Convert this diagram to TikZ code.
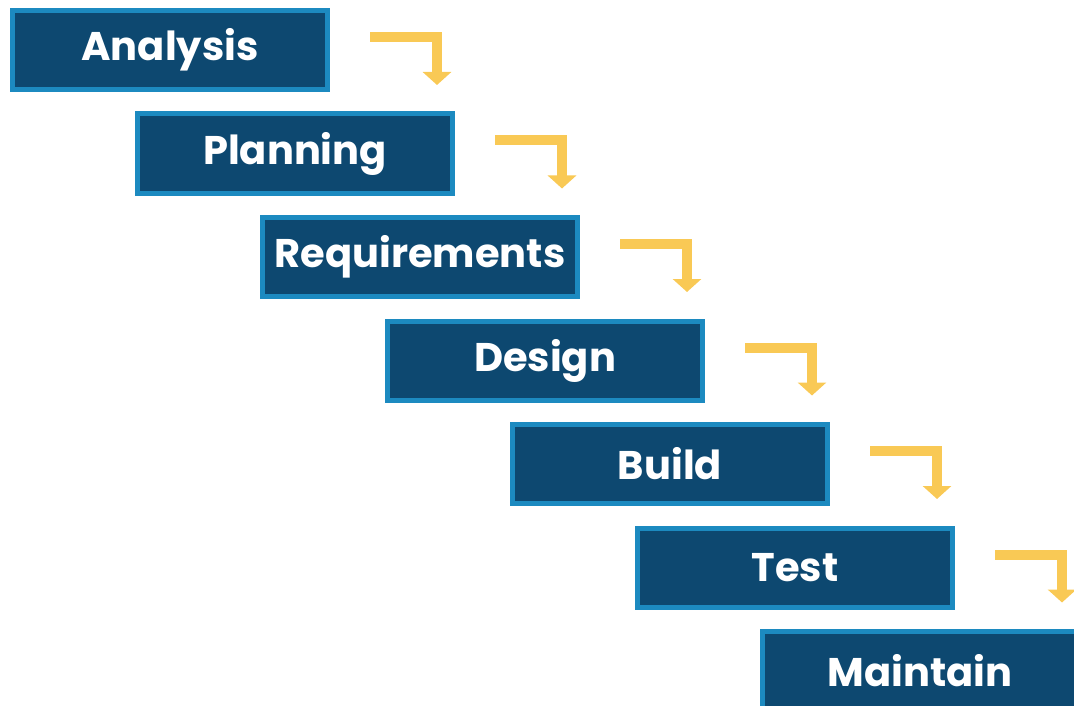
\documentclass[tikz,border=0pt]{standalone}
\usepackage{fontspec}
\setmainfont{Poppins}
\usetikzlibrary{arrows.meta}
\definecolor{navy}{HTML}{0D4870}
\definecolor{edgeblue}{HTML}{1C8AC0}
\definecolor{gold}{HTML}{F9C955}
\tikzset{
  stepbox/.style={draw=edgeblue, line width=5pt, fill=navy, minimum width=315pt, minimum height=79pt,
    inner sep=0pt, text=white, font=\fontsize{40}{46}\selectfont\bfseries},
  flowarrow/.style={draw=gold, line width=10pt, line join=miter,
    -{Triangle[width=28pt,length=13pt]}}
}
\begin{document}
\begin{tikzpicture}[x=1pt,y=-1pt]
\useasboundingbox (0,0) rectangle (1074,706);
\begin{scope}
\clip (0,0) rectangle (1074,706);
\node[stepbox] (b0) at (170,50) {Analysis};
\node[stepbox] (b1) at (295,153.5) {Planning};
\node[stepbox] (b2) at (420,257) {Requirements};
\node[stepbox] (b3) at (545,360.5) {Design};
\node[stepbox] (b4) at (670,464) {Build};
\node[stepbox] (b5) at (795,567.5) {Test};
\node[stepbox] (b6) at (920,671) {Maintain};
\foreach \i in {0,...,5}{
  \coordinate (s\i) at ([xshift=40pt,yshift=13pt]b\i.east);
  \coordinate (c\i) at ([xshift=107pt,yshift=13pt]b\i.east);
  \coordinate (t\i) at ([xshift=107pt,yshift=-35pt]b\i.east);
  \draw[flowarrow] (s\i) -- (c\i) -- (t\i);
}
\end{scope}
\end{tikzpicture}
\end{document}
